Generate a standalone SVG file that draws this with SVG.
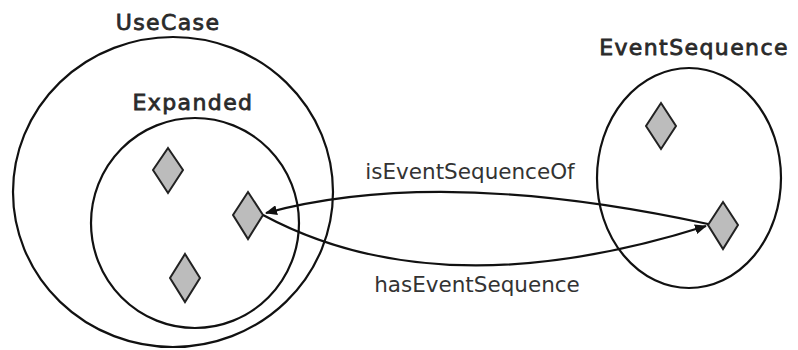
<svg xmlns="http://www.w3.org/2000/svg" width="798" height="350" viewBox="0 0 798 350">
<style>
.set{fill:none;stroke:#111;stroke-width:2.2}
.el{fill:#bcbcbc;stroke:#222;stroke-width:2}
.title{font-family:"DejaVu Sans",sans-serif;font-size:22px;fill:#2a2a2a;stroke:#2a2a2a;stroke-width:0.8;letter-spacing:1.4px;text-anchor:middle}
.lbl{font-family:"DejaVu Sans",sans-serif;font-size:21.5px;fill:#333;text-anchor:middle}
.edge{fill:none;stroke:#111;stroke-width:2.2}
</style>
<defs>
<marker id="ah" viewBox="0 0 12 10" refX="11" refY="5" markerWidth="12" markerHeight="10" markerUnits="userSpaceOnUse" orient="auto">
<path d="M0,0 L12,5 L0,10 z" fill="#111"/>
</marker>
</defs>
<rect width="798" height="350" fill="#fff"/>
<g id="UseCase">
<ellipse class="set" cx="173" cy="192" rx="160" ry="155"/>
<text class="title" x="168" y="30">UseCase</text>
</g>
<g id="Expanded">
<ellipse class="set" cx="195" cy="223" rx="104" ry="105"/>
<text class="title" x="193" y="110">Expanded</text>
</g>
<g id="EventSequence">
<ellipse class="set" cx="689" cy="178" rx="92" ry="110"/>
<text class="title" x="694" y="55">EventSequence</text>
</g>
<g id="d1"><polygon class="el" points="168,148 183,170 168,193 153,170"/></g>
<g id="d2"><polygon class="el" points="248,192 263,215 248,239 233,215"/></g>
<g id="d3"><polygon class="el" points="185,254 200,278 185,302 170,278"/></g>
<g id="d4"><polygon class="el" points="661,103 676,126 661,149 646,126"/></g>
<g id="d5"><polygon class="el" points="723,202 738,225 723,249 708,225"/></g>
<g id="connectors">
<path class="edge" d="M708,224 Q440,166 266,213" marker-end="url(#ah)"/>
<path class="edge" d="M263,215 Q440,310 706,226" marker-end="url(#ah)"/>
<text class="lbl" x="470" y="179">isEventSequenceOf</text>
<text class="lbl" x="477" y="292">hasEventSequence</text>
</g>
</svg>
